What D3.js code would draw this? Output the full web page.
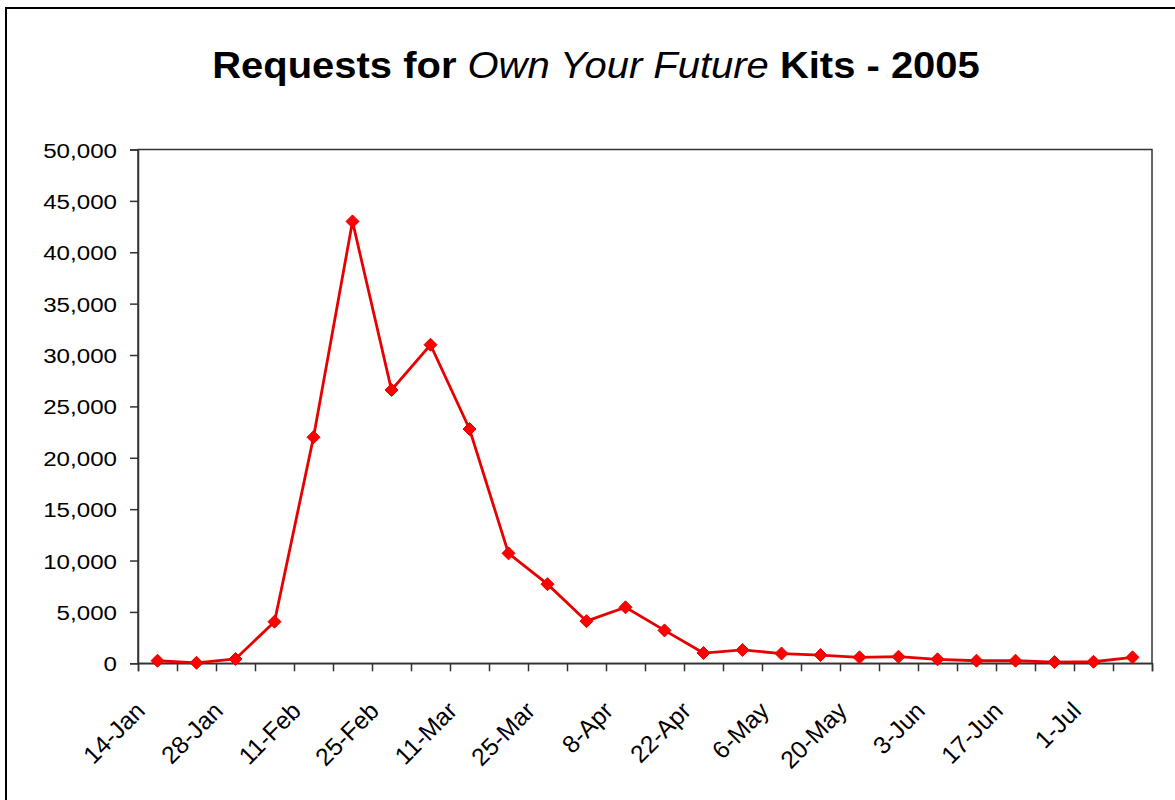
<!DOCTYPE html>
<html>
<head>
<meta charset="utf-8">
<script src="https://cdn.jsdelivr.net/npm/d3@7"></script>
<style>
  html, body { margin: 0; padding: 0; background: #fff; }
  svg { display: block; font-family: Arial, "Liberation Sans", sans-serif; }
</style>
</head>
<body>
<svg id="chart" width="1175" height="800"></svg>
<script>
const weeks = ["14-Jan","21-Jan","28-Jan","4-Feb","11-Feb","18-Feb","25-Feb","4-Mar","11-Mar","18-Mar","25-Mar","1-Apr","8-Apr","15-Apr","22-Apr","29-Apr","6-May","13-May","20-May","27-May","3-Jun","10-Jun","17-Jun","24-Jun","1-Jul","8-Jul"];
const requests = [250, 50, 420, 4050, 22000, 43000, 26600, 31000, 22800, 10700, 7700, 4100, 5450, 3200, 1000, 1300, 950, 800, 580, 640, 390, 250, 250, 120, 150, 580];
const yTicks = [0, 5000, 10000, 15000, 20000, 25000, 30000, 35000, 40000, 45000, 50000];

const svg = d3.select("#chart");
svg.append("rect").attr("width", 1175).attr("height", 800).attr("fill", "#fff");

// outer frame (extends beyond the picture on right and bottom)
svg.append("line").attr("x1", 6).attr("x2", 6).attr("y1", 7).attr("y2", 800).attr("stroke", "#000").attr("stroke-width", 2);
svg.append("line").attr("x1", 5).attr("x2", 1175).attr("y1", 8).attr("y2", 8).attr("stroke", "#000").attr("stroke-width", 2);

const L = 138, R = 1152, T = 149.5, B = 663.3;
const x = d3.scaleLinear().domain([0, weeks.length]).range([L, R]);
const y = d3.scaleLinear().domain([0, 50000]).range([B, T]);

// title (slightly wide, like the original)
const title = svg.append("text").attr("text-anchor", "middle")
  .attr("transform", "translate(596,78) scale(1.08,1)")
  .attr("font-size", 37).attr("font-weight", "bold").attr("fill", "#000");
title.append("tspan").text("Requests for ");
title.append("tspan").attr("font-style", "italic").attr("font-weight", "normal").text("Own Your Future");
title.append("tspan").text(" Kits - 2005");

// plot frame
svg.append("rect").attr("x", L).attr("y", T).attr("width", R - L).attr("height", B - T)
  .attr("fill", "none").attr("stroke", "#333").attr("stroke-width", 1.5);

// y axis
const yAxis = svg.append("g").attr("transform", `translate(${L},0)`)
  .call(d3.axisLeft(y).tickValues(yTicks).tickSize(8).tickPadding(13).tickFormat(d3.format(",")));
yAxis.select(".domain").attr("stroke", "#333").attr("stroke-width", 1.5);
yAxis.selectAll(".tick line").attr("stroke", "#333").attr("stroke-width", 1.5);
yAxis.selectAll(".tick text")
  .attr("font-size", 21).attr("fill", "#000")
  .attr("font-family", "Arial, 'Liberation Sans', sans-serif")
  .attr("x", null).attr("dy", null)
  .attr("transform", "translate(-21,7.5) scale(1.15,1)");

// x axis ticks at category boundaries
const xAxis = svg.append("g").attr("transform", `translate(0,${B})`)
  .call(d3.axisBottom(x).tickValues(d3.range(weeks.length + 1)).tickSize(8).tickFormat(""));
xAxis.select(".domain").attr("stroke", "#333").attr("stroke-width", 1.5);
xAxis.selectAll(".tick line").attr("stroke", "#333").attr("stroke-width", 1.5);

// x labels every other category, rotated
svg.append("g").selectAll("text")
  .data(weeks.map((w, i) => ({w, i})).filter(d => d.i % 2 === 0))
  .join("text")
  .attr("transform", d => `translate(${x(d.i + 0.5) - 11},${B + 49}) rotate(-45)`)
  .attr("text-anchor", "end")
  .attr("font-size", 24.5)
  .attr("fill", "#000")
  .text(d => d.w);

// line
const line = d3.line().x((d, i) => x(i + 0.5)).y(d => y(d));
svg.append("path").datum(requests).attr("d", line)
  .attr("fill", "none").attr("stroke", "#e80000").attr("stroke-width", 2.8).attr("stroke-linejoin", "miter");

// diamond markers
svg.append("g").selectAll("path")
  .data(requests)
  .join("path")
  .attr("transform", (d, i) => `translate(${x(i + 0.5)},${y(d)})`)
  .attr("d", "M0,-6.5L6.5,0L0,6.5L-6.5,0Z")
  .attr("fill", "#ff0000").attr("stroke", "#e00000").attr("stroke-width", 1);
</script>
</body>
</html>
